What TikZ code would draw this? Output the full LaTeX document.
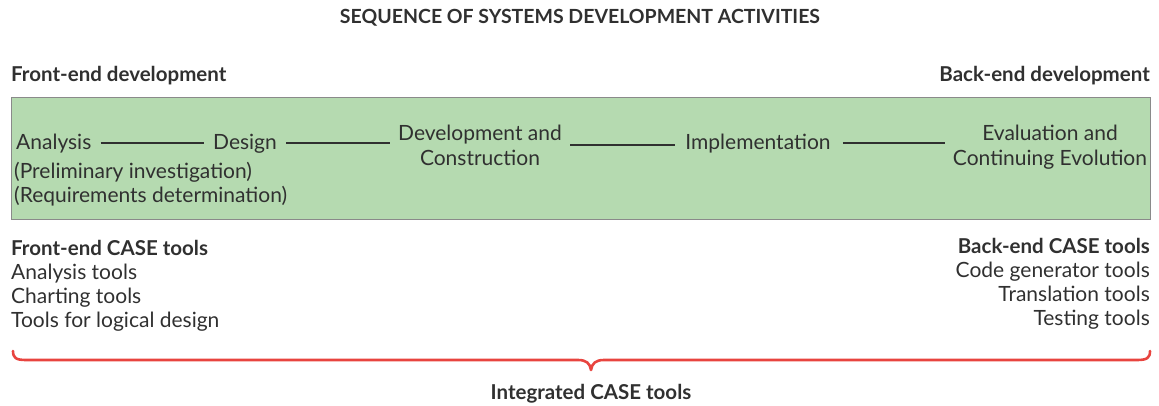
\documentclass[tikz,border=0pt]{standalone}
\usepackage{fontspec}
\setmainfont{Lato}
\definecolor{boxgreen}{HTML}{B5DAB0}
\definecolor{boxedge}{HTML}{8A8A8A}
\definecolor{txt}{HTML}{303030}
\definecolor{bracered}{HTML}{E8443F}
\tikzset{
  lbl/.style={inner sep=0pt, text=txt, font=\fontsize{21}{25}\selectfont},
  hd/.style={inner sep=0pt, text=txt, font=\fontsize{20.5}{24}\selectfont\bfseries},
  stage/.style={lbl, align=center},
  link/.style={draw=txt, line width=2pt},
}
\begin{document}
\begin{tikzpicture}[x=1pt,y=-1pt]
\useasboundingbox (0,0) rectangle (1159,406);
\node[hd, anchor=base, font=\fontsize{19.5}{22}\selectfont\bfseries] (title) at (580,24) {SEQUENCE OF SYSTEMS DEVELOPMENT ACTIVITIES};
\node[hd, anchor=base west] (fe) at (11,82) {Front-end development};
\node[hd, anchor=base east] (be) at (1150,82) {Back-end development};
\node[draw=boxedge, fill=boxgreen, line width=1.2pt, minimum width=1139pt, minimum height=122pt, anchor=north west, inner sep=0pt] (box) at (11,97) {};
\node[lbl, anchor=base west] (an) at (16,150) {Analysis};
\node[lbl, anchor=base] (de) at (245,150) {Design};
\node[stage] (dc) at (480,145) {Development and\\Construction};
\node[lbl, anchor=base] (im) at (758,150) {Implementation};
\node[stage] (ev) at (1050,147) {Evaluation and\\Continuing Evolution};
\node[lbl, anchor=base west] (pi) at (14,179) {(Preliminary investigation)};
\node[lbl, anchor=base west] (rd) at (14,203) {(Requirements determination)};
\draw[link] ([xshift=9pt]an.east |- 0,143) -- ([xshift=-9pt]de.west |- 0,143);
\draw[link] ([xshift=9pt]de.east |- 0,143) -- ([xshift=-8pt]dc.west |- 0,143);
\draw[link] ([xshift=8pt]dc.east |- 0,145) -- ([xshift=-10pt]im.west |- 0,145);
\draw[link] ([xshift=12pt]im.east |- 0,143) -- ([xshift=-8pt]ev.west |- 0,143);
\node[hd, anchor=base west] (fct) at (11,255) {Front-end CASE tools};
\node[lbl, anchor=base west] (at) at (11,279) {Analysis tools};
\node[lbl, anchor=base west] (ct) at (11,303) {Charting tools};
\node[lbl, anchor=base west] (tl) at (11,327) {Tools for logical design};
\node[hd, anchor=base east] (bct) at (1150,253) {Back-end CASE tools};
\node[lbl, anchor=base east] (cg) at (1150,277) {Code generator tools};
\node[lbl, anchor=base east] (tt) at (1150,301) {Translation tools};
\node[lbl, anchor=base east] (te) at (1150,325) {Testing tools};
\draw[bracered, line width=2.6pt, line cap=round, line join=round]
  (13,351) .. controls (13,358) and (16,360) .. (26,360)
  -- (578,360) .. controls (586,360) and (590,363) .. (591,370)
  .. controls (592,363) and (596,360) .. (604,360)
  -- (1137,360) .. controls (1147,360) and (1150,358) .. (1150,351);
\node[hd, anchor=base] (ict) at (591,399) {Integrated CASE tools};
\end{tikzpicture}
\end{document}
